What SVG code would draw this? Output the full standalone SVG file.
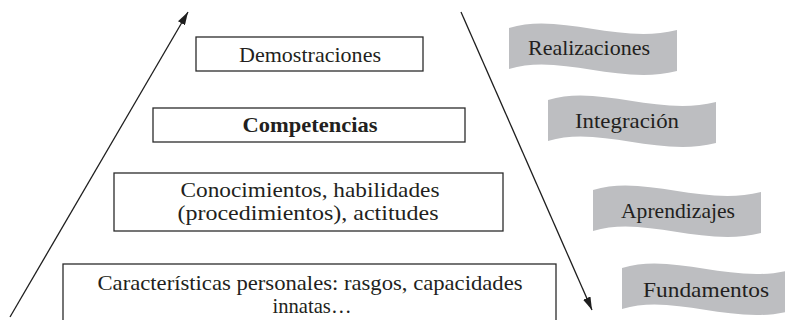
<svg xmlns="http://www.w3.org/2000/svg" xmlns:xlink="http://www.w3.org/1999/xlink" width="785" height="320" viewBox="0 0 785 320">
<style>
  .box { fill: #ffffff; stroke: #2b2b2b; stroke-width: 1.3; }
  .txt { font-family: 'Liberation Serif', 'Times New Roman', serif; font-size: 22px; fill: #231f20; text-anchor: middle; }
  .bold { font-weight: bold; }
  .flag { fill: #bdbec1; stroke: none; }
  .conn { fill: none; stroke: #1e1e1e; stroke-width: 1.3; }
</style>
<defs>
  <marker id="arrow" viewBox="0 0 13 8" refX="13" refY="4" markerWidth="13" markerHeight="8" markerUnits="userSpaceOnUse" orient="auto">
    <path d="M0,0 L13,4 L0,8 Z" fill="#1e1e1e"/>
  </marker>
  <path id="flagShape" d="M0,0 C51,-16 111,17 168,2 L168,43 C111,58 51,25 0,41 Z"/>
</defs>
<rect width="785" height="320" fill="#ffffff"/>

<g id="connectors">
  <line class="conn" x1="10" y1="317" x2="188" y2="12" marker-end="url(#arrow)"/>
  <line class="conn" x1="461" y1="12" x2="592" y2="310" marker-end="url(#arrow)"/>
</g>

<g id="node-demostraciones">
  <rect class="box" x="196" y="37" width="227" height="34"/>
  <text class="txt" x="310" y="62" textLength="142" lengthAdjust="spacingAndGlyphs">Demostraciones</text>
</g>

<g id="node-competencias">
  <rect class="box" x="153" y="108" width="312" height="34"/>
  <text class="txt bold" x="310" y="132" textLength="135" lengthAdjust="spacingAndGlyphs">Competencias</text>
</g>

<g id="node-conocimientos">
  <rect class="box" x="114" y="173" width="389" height="58"/>
  <text class="txt" x="310" y="197" textLength="259" lengthAdjust="spacingAndGlyphs">Conocimientos, habilidades</text>
  <text class="txt" x="308" y="220" textLength="261" lengthAdjust="spacingAndGlyphs">(procedimientos), actitudes</text>
</g>

<g id="node-caracteristicas">
  <rect class="box" x="63" y="264" width="493" height="70"/>
  <text class="txt" x="310" y="290" textLength="425" lengthAdjust="spacingAndGlyphs">Características personales: rasgos, capacidades</text>
  <text class="txt" x="312" y="313" textLength="79" lengthAdjust="spacingAndGlyphs">innatas…</text>
</g>

<g id="node-realizaciones">
  <use xlink:href="#flagShape" class="flag" transform="translate(509,28)"/>
  <text class="txt" x="589" y="55" textLength="122" lengthAdjust="spacingAndGlyphs">Realizaciones</text>
</g>

<g id="node-integracion">
  <use xlink:href="#flagShape" class="flag" transform="translate(548,100)"/>
  <text class="txt" x="627" y="128" textLength="104" lengthAdjust="spacingAndGlyphs">Integración</text>
</g>

<g id="node-aprendizajes">
  <use xlink:href="#flagShape" class="flag" transform="translate(593,190)"/>
  <text class="txt" x="678" y="218" textLength="114" lengthAdjust="spacingAndGlyphs">Aprendizajes</text>
</g>

<g id="node-fundamentos">
  <use xlink:href="#flagShape" class="flag" transform="translate(622,268)"/>
  <text class="txt" x="706" y="297" textLength="126" lengthAdjust="spacingAndGlyphs">Fundamentos</text>
</g>
</svg>
